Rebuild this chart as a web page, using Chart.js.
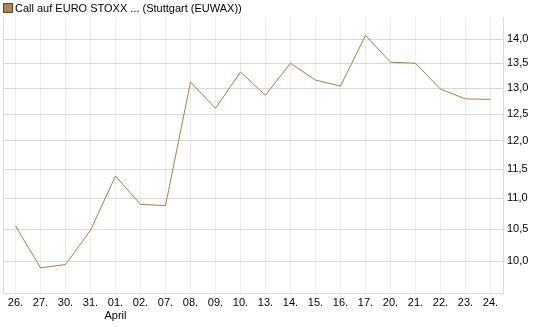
<!DOCTYPE html>
<html>
<head>
<meta charset="utf-8">
<script src="https://cdn.jsdelivr.net/npm/chart.js@4"></script>
<style>
  html, body { margin: 0; padding: 0; background: #fff; }
  canvas { display: block; }
</style>
</head>
<body>
<canvas id="chart" width="545" height="327"></canvas>
<script>
var labels = ["26.", "27.", "30.", "31.", ["01.", "April"], "02.", "07.", "08.", "09.", "10.",
  "13.", "14.", "15.", "16.", "17.", "20.", "21.", "22.", "23.", "24."];
var prices = [10.55, 9.90, 9.95, 10.48, 11.38, 10.90, 10.88, 13.12, 12.61, 13.32,
  12.86, 13.50, 13.16, 13.04, 14.08, 13.52, 13.50, 12.98, 12.79, 12.78];
var yTicks = [10.0, 10.5, 11.0, 11.5, 12.0, 12.5, 13.0, 13.5, 14.0];
var seriesName = "Call auf EURO STOXX ... (Stuttgart (EUWAX))";

var lineColor = "#b07d3a";

// legend + left frame line drawn by hand
var extras = {
  id: "extras",
  afterDraw: function (chart) {
    var c = chart.ctx, a = chart.chartArea;
    c.save();
    c.strokeStyle = "#dcdcdc";
    c.lineWidth = 1;
    c.beginPath();
    c.moveTo(Math.round(a.left) + 0.5, a.top);
    c.lineTo(Math.round(a.left) + 0.5, a.bottom);
    c.stroke();
    c.fillStyle = "#b0864d";
    c.fillRect(3, 3, 10, 10);
    c.strokeStyle = "#5e4526";
    c.strokeRect(3.5, 3.5, 9, 9);
    c.fillStyle = "#000";
    c.font = "11px 'Liberation Sans', Arial, sans-serif";
    c.textBaseline = "middle";
    c.fillText(seriesName, 15, 8.5);
    c.restore();
  }
};

new Chart(document.getElementById("chart"), {
  type: "line",
  data: {
    labels: labels,
    datasets: [{
      label: seriesName,
      data: prices,
      borderColor: lineColor,
      borderWidth: 1,
      pointRadius: 0,
      tension: 0,
      fill: false
    }]
  },
  options: {
    responsive: false,
    animation: false,
    layout: { padding: { left: 3, right: 0, top: 17, bottom: 0 } },
    plugins: {
      legend: { display: false },
      tooltip: { enabled: false }
    },
    scales: {
      x: {
        offset: true,
        grid: { color: "#ececec", offset: false, drawTicks: false },
        border: { color: "#dcdcdc" },
        ticks: {
          color: "#000",
          padding: 3,
          maxRotation: 0,
          autoSkip: false,
          font: { family: "'Liberation Sans', Arial, sans-serif", size: 11 }
        },
        afterFit: function (s) { s.height = 34; }
      },
      y: {
        type: "logarithmic",
        position: "right",
        min: 9.53,
        max: 14.48,
        grid: { color: "#d9d9d9", drawTicks: false },
        border: { color: "#dcdcdc" },
        afterBuildTicks: function (s) {
          s.ticks = yTicks.map(function (v) { return { value: v }; });
        },
        ticks: {
          color: "#000",
          padding: 4,
          font: { family: "'Liberation Sans', Arial, sans-serif", size: 11 },
          callback: function (v) { return Number(v).toFixed(1).replace(".", ","); }
        },
        afterFit: function (s) { s.width = 42; }
      }
    }
  },
  plugins: [extras]
});
</script>
</body>
</html>
